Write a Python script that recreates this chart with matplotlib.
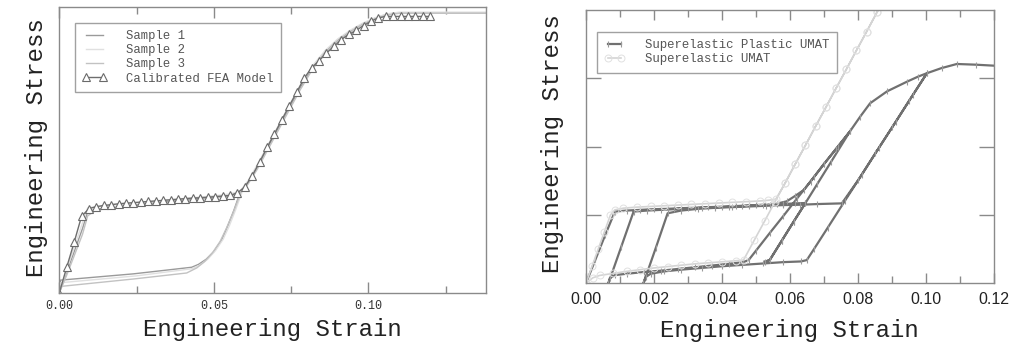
import matplotlib
matplotlib.use("Agg")
import matplotlib.pyplot as plt
from matplotlib.ticker import MultipleLocator, FixedLocator

MONO = "Liberation Mono"
SANS = "Liberation Sans"

# ---------------- left panel: test samples vs calibrated model ----------------
fea_strain = [0, 0.0024, 0.0048, 0.0072, 0.0096, 0.012, 0.0144, 0.0168, 0.0192, 0.0216,
              0.024, 0.0264, 0.0288, 0.0312, 0.0336, 0.036, 0.0384, 0.0408, 0.0432, 0.0456,
              0.048, 0.0504, 0.0528, 0.0552, 0.0576, 0.06, 0.0624, 0.0648, 0.0672, 0.0696,
              0.072, 0.0744, 0.0768, 0.0792, 0.0816, 0.084, 0.0864, 0.0888, 0.0912, 0.0936,
              0.096, 0.0984, 0.1008, 0.1032, 0.1056, 0.108, 0.1104, 0.1128, 0.1152, 0.1176,
              0.12]
fea_stress = [0, 90, 177, 268, 295, 302, 306, 309, 312, 314,
              316, 318, 320, 322, 324, 326, 328, 330, 332, 333,
              335, 337, 339, 341, 350, 371, 410, 458, 509, 557,
              606, 655, 702, 751, 787, 812, 839, 862, 886, 904,
              918, 935, 950, 962, 967, 967, 967, 967, 967, 967,
              967]

sample_load_strain = [0, 0.0025, 0.005, 0.0075, 0.0092, 0.012, 0.02, 0.03, 0.04, 0.05,
                      0.055, 0.0585, 0.061, 0.064, 0.067, 0.070, 0.074, 0.078, 0.082, 0.086,
                      0.090, 0.094, 0.098, 0.102, 0.106, 0.110, 0.138]
sample1_load = [0, 75, 150, 225, 285, 292, 302, 314, 325, 335,
                342, 352, 385, 440, 500, 560, 640, 720, 790, 845,
                885, 915, 940, 960, 975, 980, 980]
sample2_load = [0, 85, 165, 245, 298, 302, 310, 320, 330, 340,
                346, 356, 392, 448, 508, 568, 648, 728, 796, 848,
                888, 918, 943, 962, 976, 982, 982]
sample3_load = [0, 65, 135, 205, 270, 290, 300, 311, 322, 332,
                339, 348, 380, 432, 492, 552, 632, 712, 784, 840,
                880, 912, 938, 958, 972, 978, 978]

sample1_unload_strain = [0.0585, 0.0565, 0.0545, 0.0525, 0.050, 0.0475, 0.045, 0.0428, 0.024, 0.0004, 0]
sample1_unload_stress = [352, 290, 235, 185, 145, 118, 100, 90, 67, 45, 0]
sample2_unload_strain = [0.059, 0.057, 0.055, 0.053, 0.0505, 0.048, 0.0455, 0.043, 0.025, 0.0004, 0]
sample2_unload_stress = [350, 290, 235, 188, 148, 118, 98, 85, 60, 36, 0]
sample3_unload_strain = [0.0585, 0.0562, 0.054, 0.052, 0.0495, 0.047, 0.0445, 0.0412, 0.024, 0.0004, 0]
sample3_unload_stress = [345, 280, 225, 180, 140, 110, 88, 70, 49, 23, 0]

left_ticks = [0.0, 0.05, 0.10]
left_tick_labels = ["0.00", "0.05", "0.10"]
left_labels = ["Sample 1", "Sample 2", "Sample 3", "Calibrated FEA Model"]

# ---------------- right panel: cyclic UMAT responses ----------------
plastic_strain = [
    # first loading
    0, 0.0028, 0.0056, 0.0085, 0.012, 0.016, 0.020, 0.024, 0.028, 0.032, 0.036, 0.040,
    0.044, 0.048, 0.052, 0.056, 0.059, 0.0615, 0.064, 0.067, 0.070, 0.0735, 0.0776,
    # unloading
    0.074, 0.070, 0.066, 0.062, 0.058, 0.054, 0.050, 0.0478, 0.0462,
    0.042, 0.037, 0.032, 0.027, 0.022, 0.017, 0.012, 0.0085, 0.0070, 0.0066,
    # second loading
    0.0103, 0.014, 0.018, 0.022, 0.026, 0.030, 0.034, 0.038, 0.042, 0.046, 0.050,
    0.054, 0.058, 0.0615, 0.0645, 0.061, 0.0575, 0.054, 0.0525, 0.054, 0.0575, 0.061,
    0.0645, 0.068, 0.072, 0.0776, 0.0806, 0.0835, 0.0885, 0.0943, 0.0976, 0.1002,
    # unloading
    0.096, 0.091, 0.086, 0.081, 0.076, 0.071, 0.067, 0.0649, 0.0632,
    0.058, 0.052, 0.046, 0.040, 0.034, 0.028, 0.023, 0.019, 0.0175, 0.0169,
    # third loading
    0.0205, 0.024, 0.028, 0.033, 0.038, 0.043, 0.048, 0.053, 0.058, 0.063, 0.068,
    0.0752, 0.080, 0.085, 0.090, 0.095, 0.1002, 0.1045, 0.109, 0.1145, 0.120,
]
plastic_stress = [
    0, 70, 140, 210, 213, 215, 217, 218, 220, 221, 223, 224,
    226, 228, 230, 233, 240, 256, 273, 311, 350, 394, 445,
    399, 350, 298, 248, 197, 147, 96, 68, 62,
    57, 52, 47, 42, 37, 33, 28, 24, 15, 0,
    105, 210, 213, 215, 217, 219, 221, 223, 224, 226, 228,
    230, 232, 234, 235, 180, 124, 68, 63, 68, 124, 180,
    235, 291, 355, 445, 488, 527, 562, 590, 605, 615,
    550, 472, 395, 317, 240, 162, 100, 68, 64,
    62, 58, 54, 50, 45, 40, 35, 28, 18, 0,
    103, 205, 213, 218, 221, 223, 225, 227, 229, 230, 232,
    234, 302, 380, 457, 535, 615, 630, 642, 640, 637,
]

elastic_strain = [0, 0.0018, 0.0036, 0.0054, 0.0072, 0.0085, 0.011, 0.015, 0.019, 0.023,
                  0.027, 0.031, 0.035, 0.039, 0.043, 0.047, 0.051, 0.0535, 0.0558,
                  0.0585, 0.0615, 0.0645, 0.0675, 0.0705, 0.0735, 0.0765, 0.0795, 0.0825,
                  0.0855, 0.0885, 0.0855, 0.0825, 0.0795, 0.0765, 0.0735, 0.0705, 0.0675,
                  0.0645, 0.0615, 0.0585, 0.0555, 0.0525, 0.0495, 0.0463,
                  0.044, 0.040, 0.036, 0.032, 0.028, 0.024, 0.020, 0.016, 0.012, 0.008,
                  0.004, 0.002, 0]
elastic_stress = [0, 50, 100, 150, 200, 215, 220, 223, 225, 227,
                  229, 231, 233, 235, 237, 239, 241, 243, 246,
                  293, 349, 404, 460, 515, 571, 626, 682, 737,
                  793, 848, 793, 737, 682, 626, 571, 515, 460,
                  404, 349, 293, 238, 182, 127, 68,
                  66, 63, 60, 57, 53, 49, 45, 40, 35, 29,
                  23, 16, 0]

right_ticks = [0.0, 0.02, 0.04, 0.06, 0.08, 0.10, 0.12]
right_tick_labels = ["0.00", "0.02", "0.04", "0.06", "0.08", "0.10", "0.12"]
right_labels = ["Superelastic Plastic UMAT", "Superelastic UMAT"]

# ---------------- drawing ----------------
FRAME = "#8a8a8a"

fig = plt.figure(figsize=(10.15, 3.45), dpi=100)
ax1 = fig.add_axes([0.0584, 0.1507, 0.4204, 0.829])
ax2 = fig.add_axes([0.5773, 0.1788, 0.4023, 0.7922])

# left panel curves
h1, = ax1.plot(sample_load_strain, sample1_load, color="#9a9a9a", lw=1.0)
ax1.plot(sample1_unload_strain, sample1_unload_stress, color="#9a9a9a", lw=1.0)
h2, = ax1.plot(sample_load_strain, sample2_load, color="#e0e0e0", lw=1.0)
ax1.plot(sample2_unload_strain, sample2_unload_stress, color="#e0e0e0", lw=1.0)
h3, = ax1.plot(sample_load_strain, sample3_load, color="#c2c2c2", lw=1.0)
ax1.plot(sample3_unload_strain, sample3_unload_stress, color="#c2c2c2", lw=1.0)
h4, = ax1.plot(fea_strain, fea_stress, color="#6e6e6e", lw=1.0, marker="^",
               ms=5.5, mfc="white", mec="#6a6a6a", mew=0.8)

ax1.set_xlim(0, 0.138)
ax1.set_ylim(0, 1000)
ax1.xaxis.set_major_locator(FixedLocator(left_ticks))
ax1.xaxis.set_minor_locator(FixedLocator([0.025, 0.075, 0.125]))
ax1.set_yticks([])
ax1.tick_params(axis="x", which="both", direction="in", top=True, bottom=True,
                color=FRAME, labelcolor="#333333", labelsize=8.5, pad=5)
ax1.tick_params(axis="x", which="major", length=8, width=1)
ax1.tick_params(axis="x", which="minor", length=5, width=1)
ax1.set_xticklabels(left_tick_labels, family=MONO)
for sp in ax1.spines.values():
    sp.set_color(FRAME)
    sp.set_linewidth(1.0)

ax1.set_xlabel("Engineering Strain", family=MONO, fontsize=17.3, color="#222222", va="center")
ax1.xaxis.set_label_coords(0.50, -0.129)
ax1.set_ylabel("Engineering Stress", family=MONO, fontsize=17.3, color="#222222",
               va="center", ha="center")
ax1.yaxis.set_label_coords(-0.053, 0.51)

leg1 = ax1.legend([h1, h2, h3, h4], left_labels, loc="upper left",
                  bbox_to_anchor=(0.037, 0.945), borderaxespad=0, fancybox=False,
                  prop={"family": MONO, "size": 8.8}, handlelength=2.0,
                  labelspacing=0.18, borderpad=0.6, handletextpad=1.6, numpoints=2,
                  labelcolor="#555555")
leg1.get_frame().set_edgecolor(FRAME)
leg1.get_frame().set_linewidth(1.0)

# right panel curves
g1, = ax2.plot(plastic_strain, plastic_stress, color="#707070", lw=1.6, marker="|",
               ms=5, mec="#9a9a9a", mew=0.8)
g2, = ax2.plot(elastic_strain, elastic_stress, color="#d4d4d4", lw=1.2, marker="o",
               ms=5, mfc="none", mec="#e0e0e0", mew=0.7)

ax2.set_xlim(0, 0.12)
ax2.set_ylim(0, 800)
ax2.xaxis.set_major_locator(FixedLocator(right_ticks))
ax2.xaxis.set_minor_locator(FixedLocator([0.01, 0.03, 0.05, 0.07, 0.09, 0.11]))
ax2.yaxis.set_major_locator(FixedLocator([200, 400, 600]))
ax2.tick_params(axis="x", which="both", direction="in", top=True, bottom=True,
                color=FRAME, labelcolor="#222222", labelsize=11.5, pad=6)
ax2.tick_params(axis="x", which="major", length=7, width=1)
ax2.tick_params(axis="x", which="minor", length=5, width=1)
ax2.tick_params(axis="y", which="major", direction="in", left=True, right=True,
                length=11, width=1, color=FRAME, labelleft=False)
ax2.set_xticklabels(right_tick_labels, family=SANS)
for sp in ax2.spines.values():
    sp.set_color(FRAME)
    sp.set_linewidth(1.0)

ax2.set_xlabel("Engineering Strain", family=MONO, fontsize=17.3, color="#222222", va="center")
ax2.xaxis.set_label_coords(0.497, -0.171)
ax2.set_ylabel("Engineering Stress", family=MONO, fontsize=17.3, color="#222222",
               va="center", ha="center")
ax2.yaxis.set_label_coords(-0.081, 0.51)

leg2 = ax2.legend([g1, g2], right_labels, loc="upper left",
                  bbox_to_anchor=(0.026, 0.921), borderaxespad=0, fancybox=False,
                  prop={"family": MONO, "size": 8.9}, handlelength=1.7,
                  labelspacing=0.18, borderpad=0.6, handletextpad=1.6, numpoints=2,
                  labelcolor="#555555")
leg2.get_frame().set_edgecolor(FRAME)
leg2.get_frame().set_linewidth(1.0)

fig.savefig("out.png", dpi=100, facecolor="white")
